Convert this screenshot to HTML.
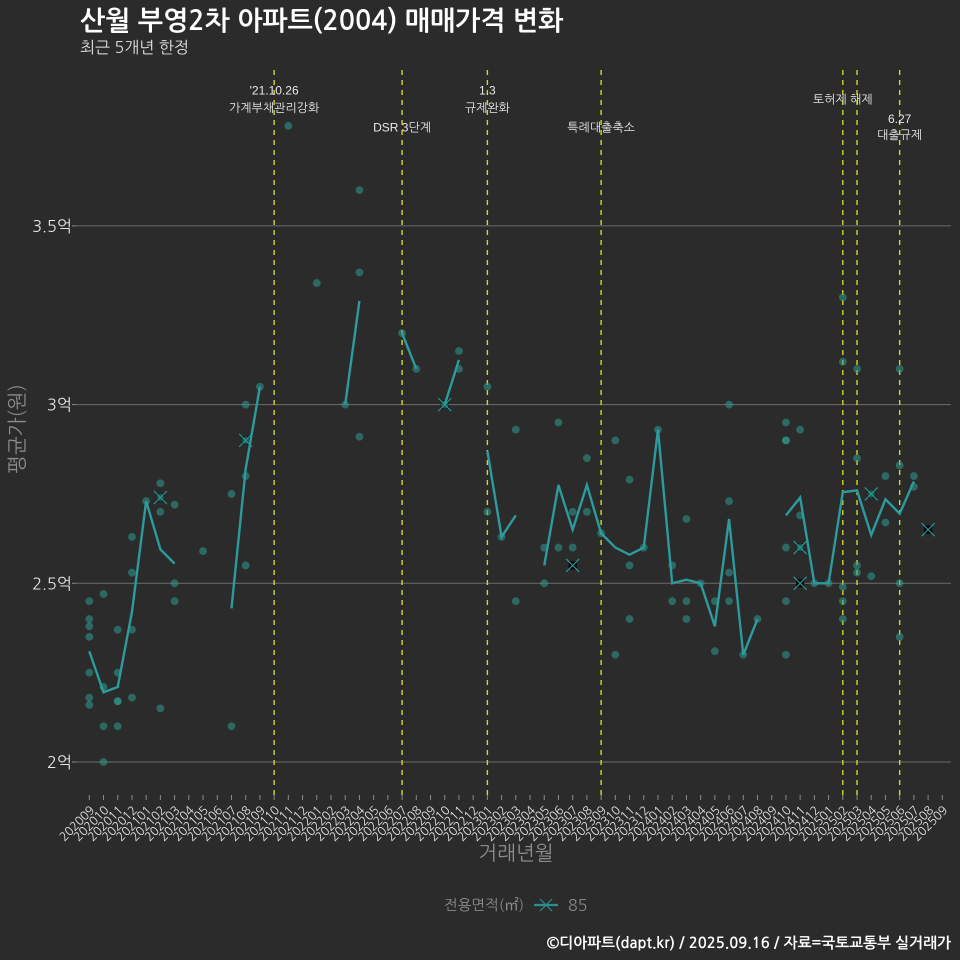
<!DOCTYPE html>
<html lang="ko">
<head>
<meta charset="utf-8">
<title>산월 부영2차 아파트(2004) 매매가격 변화</title>
<style>
html,body{margin:0;padding:0;background:#2b2b2b;}
svg{display:block;font-family:"Liberation Sans","NanumGothic","Noto Sans CJK KR",sans-serif;}
.kr{font-family:"NanumGothic","Noto Sans CJK KR",sans-serif;}
</style>
</head>
<body>
<svg id="chart" xmlns="http://www.w3.org/2000/svg" width="960" height="960" viewBox="0 0 960 960">
  <rect x="0" y="0" width="960" height="960" fill="#2b2b2b"/>
  <g id="grid"></g>
  <g id="yticks"></g>
  <g id="xticks"></g>
  <g id="vlines"></g>
  <g id="markers"></g>
  <g id="points"></g>
  <g id="lines"></g>
  <g id="notes"></g>
  <text class="kr" x="80" y="30" font-size="26.8" font-weight="700" fill="#ffffff">산월 부영2차 아파트(2004) 매매가격 변화</text>
  <text class="kr" x="80" y="53" font-size="16" fill="#e0e0e0">최근 5개년 한정</text>
  <text class="kr" x="516" y="860" font-size="20" text-anchor="middle" fill="#8c8c8c">거래년월</text>
  <text class="kr" transform="translate(24,429) rotate(-90)" font-size="20" text-anchor="middle" fill="#8c8c8c">평균가(원)</text>
  <g>
    <text class="kr" x="444" y="910" font-size="14.6" fill="#8c8c8c">전용면적(㎡)</text>
    <line x1="534" y1="905" x2="558" y2="905" stroke="#2a8f8f" stroke-width="2.3"/>
    <path d="M540 899L552 911M552 899L540 911" stroke="#2a8f8f" stroke-width="1.2" fill="none"/>
    <text class="kr" x="568" y="911" font-size="16" fill="#8c8c8c">85</text>
  </g>
  <text class="kr" x="951" y="948" font-size="14.85" font-weight="700" text-anchor="end" fill="#ffffff">©디아파트(dapt.kr) / 2025.09.16 / 자료=국토교통부 실거래가</text>
</svg>
<script>
const months = ["202009","202010","202011","202012","202101","202102","202103","202104","202105","202106","202107","202108","202109","202110","202111","202112","202201","202202","202203","202204","202205","202206","202207","202208","202209","202210","202211","202212","202301","202302","202303","202304","202305","202306","202307","202308","202309","202310","202311","202312","202401","202402","202403","202404","202405","202406","202407","202408","202409","202410","202411","202412","202501","202502","202503","202504","202505","202506","202507","202508","202509"];
const lineValues = [2.31,2.195,2.21,2.42,2.73,2.595,2.555,null,null,null,2.43,2.82,3.05,null,null,null,null,null,3.0,3.29,null,null,3.2,3.1,null,3.0,3.125,null,2.87,2.63,2.69,null,2.55,2.775,2.65,2.775,2.64,2.6,2.58,2.6,2.93,2.5,2.51,2.5,2.38,2.68,2.3,2.4,null,2.69,2.74,2.5,2.5,2.755,2.76,2.635,2.735,2.695,2.785,null,null];
const tradeMonths = ["202009","202009","202009","202009","202009","202009","202009","202010","202010","202010","202010","202011","202011","202011","202011","202011","202012","202012","202012","202012","202101","202102","202102","202102","202102","202103","202103","202103","202105","202107","202107","202108","202108","202108","202108","202109","202111","202201","202203","202204","202204","202204","202207","202208","202210","202211","202211","202301","202301","202302","202303","202303","202305","202305","202306","202306","202307","202307","202308","202308","202309","202310","202310","202311","202311","202311","202312","202401","202402","202402","202403","202403","202403","202404","202405","202405","202406","202406","202406","202406","202407","202408","202410","202410","202410","202410","202410","202410","202411","202411","202411","202412","202501","202502","202502","202502","202502","202502","202503","202503","202503","202503","202504","202504","202505","202505","202506","202506","202506","202506","202507","202507"];
const tradeValues = [2.45,2.4,2.38,2.35,2.25,2.18,2.16,2.47,2.21,2.1,2.0,2.37,2.25,2.17,2.17,2.1,2.63,2.53,2.37,2.18,2.73,2.78,2.74,2.7,2.15,2.72,2.5,2.45,2.59,2.75,2.1,3.0,2.9,2.8,2.55,3.05,3.78,3.34,3.0,3.6,3.37,2.91,3.2,3.1,3.0,3.15,3.1,3.05,2.7,2.63,2.93,2.45,2.6,2.5,2.95,2.6,2.7,2.6,2.85,2.7,2.64,2.9,2.3,2.79,2.55,2.4,2.6,2.93,2.55,2.45,2.68,2.45,2.4,2.5,2.45,2.31,3.0,2.73,2.53,2.45,2.3,2.4,2.95,2.9,2.9,2.6,2.45,2.3,2.93,2.69,2.6,2.5,2.5,3.3,3.12,2.49,2.45,2.4,3.1,2.85,2.55,2.53,2.75,2.52,2.8,2.67,3.1,2.83,2.5,2.35,2.8,2.77];
const markerMonths = ["202102","202108","202210","202307","202411","202411","202504","202508"];
const markerValues = [2.74,2.9,3.0,2.55,2.6,2.5,2.75,2.65];
const yTicks = [2,2.5,3,3.5];
const yTickLabels = ["2억","2.5억","3억","3.5억"];
const policyMonths = ["202110","202207","202301","202309","202502","202503","202506"];
const noteMonths = ["202110","202110","202207","202301","202301","202309","202502","202506","202506"];
const noteTexts = ["'21.10.26","가계부채관리강화","DSR 3단계","1.3","규제완화","특례대출축소","토허제 해제","6.27","대출규제"];
const noteLevels = [3.868,3.818,3.764,3.868,3.818,3.764,3.843,3.788,3.743];

const NS = "http://www.w3.org/2000/svg";
const xScale = m => 89.3 + months.indexOf(m) * 14.217;
const yScale = v => 762 - (v - 2) * 357.4;
function mk(parent, tag, attrs, text) {
  const el = document.createElementNS(NS, tag);
  for (const k in attrs) el.setAttribute(k, attrs[k]);
  if (text !== undefined) el.textContent = text;
  document.getElementById(parent).appendChild(el);
  return el;
}

yTicks.forEach((t, i) => {
  const g = mk("grid", "line", {x1: 76, x2: 951, y1: yScale(t), y2: yScale(t), stroke: "#6c6c6c", "stroke-width": 1});
  
  
  const tick = mk("yticks", "line", {x1: 72, x2: 76, y1: yScale(t), y2: yScale(t), stroke: "#8a8a8a", "stroke-width": 1});
  
  
  const lab = mk("yticks", "text", {x: 72, y: yScale(t) + 6, "text-anchor": "end", "font-size": 16.2, fill: "#e6e6e6", class: "kr"}, yTickLabels[i]);
  
  
});

months.forEach(m => {
  const x = xScale(m);
  const tick = mk("xticks", "line", {x1: x, x2: x, y1: 795, y2: 800, stroke: "#8a8a8a", "stroke-width": 1});
  
  
  const lab = mk("xticks", "text", {transform: "translate(" + (x + 6) + ",811) rotate(-45)", "text-anchor": "end", "font-size": 12, fill: "#e4e4e4", class: "kr"}, m);
  
  
});

policyMonths.forEach(m => {
  const x = xScale(m);
  const v = mk("vlines", "line", {x1: x, x2: x, y1: 70, y2: 800, stroke: "#d6d628", "stroke-width": 1.4, "stroke-dasharray": "5 5"});
  
  
});

markerMonths.forEach((m, i) => {
  const x = xScale(m), y = yScale(markerValues[i]);
  const back = mk("markers", "rect", {x: x - 4, y: y - 4, width: 8, height: 8, fill: "#000000"});
  
  
  const c = mk("markers", "path", {d: "M" + (x - 6.5) + " " + (y - 6.5) + "L" + (x + 6.5) + " " + (y + 6.5) + "M" + (x + 6.5) + " " + (y - 6.5) + "L" + (x - 6.5) + " " + (y + 6.5), stroke: "#2a9a9a", "stroke-width": 1.1, fill: "none"});
  
  
});

tradeMonths.forEach((m, i) => {
  const p = mk("points", "circle", {cx: xScale(m), cy: yScale(tradeValues[i]), r: 3.9, fill: "#2f9c92", "fill-opacity": 0.55});
  
  
});

let seg = [];
function flush() {
  if (seg.length > 1) {
    const l = mk("lines", "polyline", {points: seg.join(" "), fill: "none", stroke: "#2d9a9c", "stroke-width": 2.4, "stroke-linejoin": "miter"});
    
    
  }
  seg = [];
}
lineValues.forEach((v, i) => {
  if (v === null) { flush(); return; }
  seg.push(xScale(months[i]) + "," + yScale(v));
});
flush();

noteTexts.forEach((t, i) => {
  const n = mk("notes", "text", {x: xScale(noteMonths[i]), y: yScale(noteLevels[i]), "text-anchor": "middle", "font-size": 12, fill: "#e8e8e8"}, t);
  
  
});
</script>
</body>
</html>
